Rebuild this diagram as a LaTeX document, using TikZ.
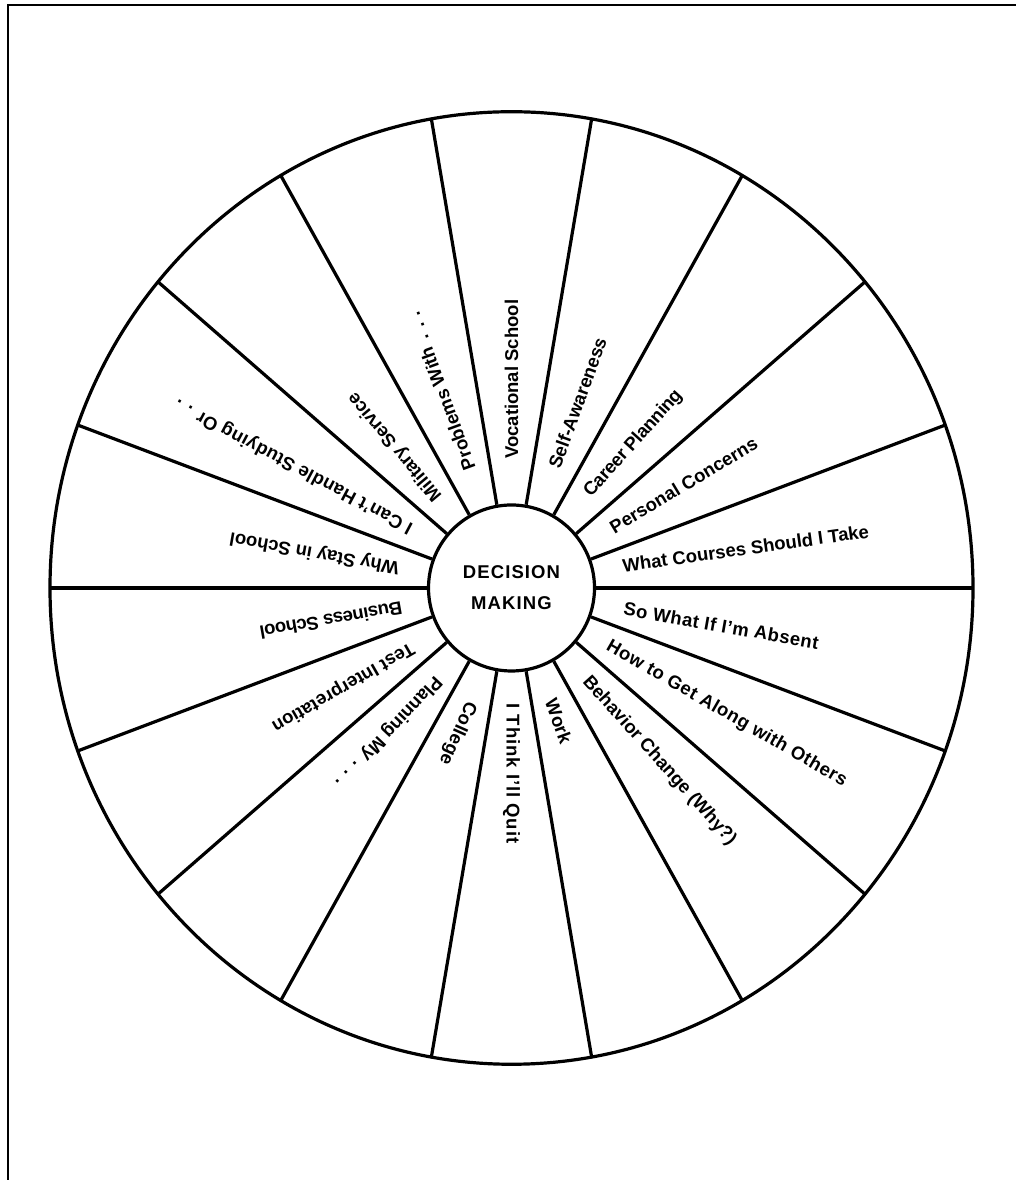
\documentclass[tikz,border=0pt]{standalone}
\usepackage{fontspec}
\setmainfont{Liberation Sans}
% spaced dot used in the trailing ". . ." of some labels
\newcommand\gapdot{\hspace{7.4pt}.}
\begin{document}
\begin{tikzpicture}[x=1pt,y=1pt,
  rim/.style={line width=3.2pt},
  frameline/.style={line width=2.5pt, line join=miter},
  lbl/.style={font=\bfseries\fontsize{18.5}{22}\selectfont, inner sep=0pt, anchor=west},
  track/.style={font=\bfseries\fontsize{18.5}{22}\selectfont\addfontfeature{LetterSpace=#1}},
  hubtext/.style={font=\bfseries\fontsize{18.5}{31}\selectfont\addfontfeature{LetterSpace=6}}]
\useasboundingbox (0,0) rectangle (1016,1180);
% page frame (top and left edges)
\coordinate (ftr) at (1016,1175);
\coordinate (ftl) at (8,1175);
\coordinate (fbl) at (8,0);
\draw[frameline] (ftr) -- (ftl) -- (fbl);
\begin{scope}[shift={(511.5,592)}, yscale=1.032]
  % outer rim
  \draw[rim] (0,0) circle[radius=461.5];
  % hub
  \node[circle, draw, rim, minimum size=166pt, inner sep=0pt, align=center, hubtext] (hub) at (0,0) {DECISION\\MAKING};
  % eighteen spokes, 20 degrees apart
  \foreach \a in {0,20,...,340} {
    \coordinate (o\a) at (\a:461.5);
    \draw[rim] (hub.\a) -- (o\a);
  }
  % topic labels, each reading outward from the hub
  \node[lbl, rotate=90]  (t1)  at (90:125)  {Vocational School};
  \node[lbl, rotate=70]  (t2)  at (70:124)  {Self-Awareness};
  \node[lbl, rotate=48, track=-2]  (t3)  at (50:118)  {Career Planning};
  \node[lbl, rotate=31]  (t4)  at (30:115)  {Personal Concerns};
  \node[lbl, rotate=8]   (t5)  at (11:113)  {What Courses Should I Take};
  \node[lbl, rotate=-10, track=2.5] (t6)  at (-10:114) {So What If I’m Absent};
  \node[lbl, rotate=-30, track=3] (t7)  at (-30:111) {How to Get Along with Others};
  \node[lbl, rotate=-48] (t8)  at (-50:115) {Behavior Change (Why?)};
  \node[lbl, rotate=-70] (t9)  at (-70:115) {Work};
  \node[lbl, rotate=-90, track=5] (t10) at (-90:112) {I Think I’ll Quit};
  \node[lbl, rotate=-114] (t11) at (-110:118) {College};
  \node[lbl, rotate=-133] (t12) at (-130:114) {Planning My\gapdot\gapdot\gapdot};
  \node[lbl, rotate=-150] (t13) at (-150:114) {Test Interpretation};
  \node[lbl, rotate=-170, track=-2] (t14) at (-170:111) {Business School};
  \node[lbl, rotate=170]  (t15) at (170:114)  {Why Stay in School};
  \node[lbl, rotate=152, track=2]  (t16) at (150:115)  {I Can’t Handle Studying Or\gapdot\gapdot};
  \node[lbl, rotate=130]  (t17) at (130:113)  {Military Service};
  \node[lbl, rotate=110]  (t18) at (110:122)  {Problems With\gapdot\gapdot\gapdot};
\end{scope}
\end{tikzpicture}
\end{document}
